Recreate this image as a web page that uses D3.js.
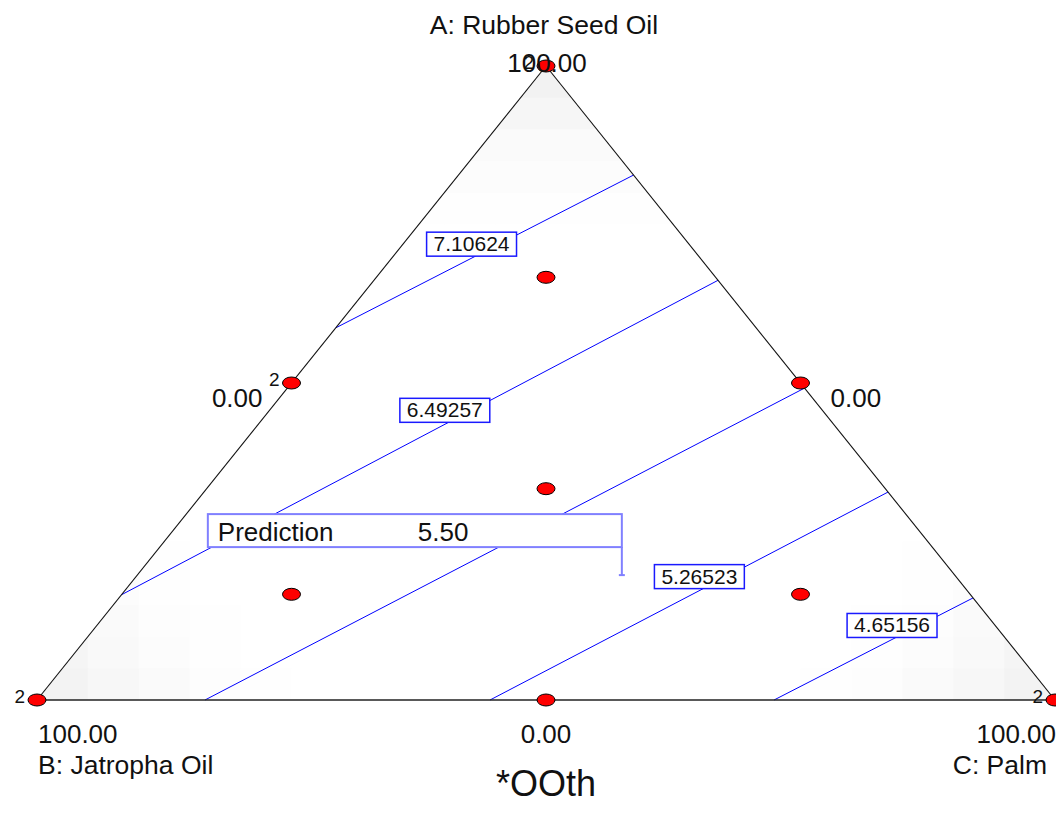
<!DOCTYPE html>
<html><head><meta charset="utf-8">
<script src="https://cdn.jsdelivr.net/npm/d3@7"></script>
<style>
html,body{margin:0;padding:0;background:#fff;}
svg{display:block;font-family:"Liberation Sans",Arial,sans-serif;}
</style></head><body>
<svg id="chart" width="1056" height="825"></svg>
<script>
// Mixture components (vertex order: A top, B bottom-left, C bottom-right)
const componentNames = ["A: Rubber Seed Oil", "B: Jatropha Oil", "C: Palm"];
const vertexTicks = ["100.00", "100.00", "100.00"];
const edgeTicks = ["0.00", "0.00", "0.00"];
const responseName = "*OOth";

// Design points in percent of A, B, C and how many runs sit on each
const designA = [100, 0, 0, 50, 50, 0, 66.67, 16.67, 16.67, 33.33];
const designB = [0, 100, 0, 50, 0, 50, 16.67, 66.67, 16.67, 33.33];
const designC = [0, 0, 100, 0, 50, 50, 16.67, 16.67, 66.67, 33.33];
const designReps = [2, 2, 2, 2, 1, 1, 1, 1, 1, 1];

// Contour levels and the mixtures where each line meets the triangle edges
const contourLevels = [7.10624, 6.49257, 5.8789, 5.26523, 4.65156];
const contourLabelled = [true, true, false, true, true];
const contourStartA = [58.7, 16.6, 0, 0, 0];
const contourStartB = [41.3, 83.4, 83.5, 55.5, 27.6];
const contourStartC = [0, 0, 16.5, 44.5, 72.4];
const contourEndA = [82.8, 66.2, 49.2, 32.8, 16.1];
const contourEndB = [0, 0, 0, 0, 0];
const contourEndC = [17.2, 33.8, 50.8, 67.2, 83.9];

// Prediction flag
const predictionLabel = "Prediction";
const predictionValue = 5.50;
const predictionMix = [19.7, 32.7, 47.6];

// ---- layout ----
const labelAlong = [0.456, 0.542, null, 0.526, 0.593];
const svg = d3.select("#chart");
const yS = d3.scaleLinear().domain([0, 100]).range([700, 66]);
const xS = d3.scaleLinear().domain([-100, 100]).range([37, 1055]);
const proj = (a, b, c) => [xS(c - b), yS(a)];

const vA = proj(100, 0, 0), vB = proj(0, 100, 0), vC = proj(0, 0, 100);
const triPath = d3.line()([vA, vB, vC]) + "Z";

// corner shading of the design space, blocky grid clipped to the triangle
svg.append("clipPath").attr("id", "tri").append("path").attr("d", triPath);
const shade = svg.append("g").attr("clip-path", "url(#tri)");
const nCells = 20;
const cw = (vC[0] - vB[0]) / nCells, ch = (vB[1] - vA[1]) / nCells;
for (let i = 0; i < nCells; i++) {
  for (let j = 0; j < nCells; j++) {
    const x0 = vB[0] + i * cw, y0 = vA[1] + j * ch;
    const a = yS.invert(y0 + ch / 2), d = xS.invert(x0 + cw / 2);
    const b = (100 - a - d) / 2, c = (100 - a + d) / 2;
    const v = Math.max(a, b, c) / 100;
    const t = Math.max(0, (v - 0.7) / 0.3);
    if (t <= 0) continue;
    const g = Math.round(255 - 16 * t * t);
    shade.append("rect").attr("x", x0).attr("y", y0)
      .attr("width", cw + 0.5).attr("height", ch + 0.5)
      .attr("fill", d3.rgb(g, g, g));
  }
}

// contour lines
const lineGen = d3.line();
const contours = contourLevels.map((lv, i) => ({
  level: lv,
  p0: proj(contourStartA[i], contourStartB[i], contourStartC[i]),
  p1: proj(contourEndA[i], contourEndB[i], contourEndC[i]),
  labelled: contourLabelled[i],
  at: labelAlong[i]
}));
svg.append("g").selectAll("path").data(contours).join("path")
  .attr("d", d => lineGen([d.p0, d.p1]))
  .attr("stroke", "#0000ff").attr("stroke-width", 1).attr("fill", "none");

// triangle outline
svg.append("path").attr("d", d3.line()([vA, vB])).attr("stroke", "#111").attr("stroke-width", 1.1).attr("fill", "none");
svg.append("path").attr("d", d3.line()([vA, vC])).attr("stroke", "#111").attr("stroke-width", 1.1).attr("fill", "none");
svg.append("path").attr("d", d3.line()([vB, vC])).attr("stroke", "#222").attr("stroke-width", 1.6).attr("fill", "none");

// contour value boxes
const lblG = svg.append("g");
contours.filter(d => d.labelled).forEach(d => {
  const px = d.p0[0] + (d.p1[0] - d.p0[0]) * d.at;
  const py = d.p0[1] + (d.p1[1] - d.p0[1]) * d.at;
  const g = lblG.append("g");
  const rect = g.append("rect");
  const txt = g.append("text").attr("x", px).attr("y", py - 7)
    .attr("text-anchor", "middle").attr("font-size", 21).attr("fill", "#111")
    .text(d.level.toFixed(5));
  const w = txt.node().getComputedTextLength() + 14;
  rect.attr("x", px - w / 2).attr("y", py - 26).attr("width", w).attr("height", 24)
    .attr("fill", "#fff").attr("stroke", "#1a1aff").attr("stroke-width", 1.5);
});

// prediction flag
const pp = proj(...predictionMix);
const flag = svg.append("g");
flag.append("rect").attr("x", pp[0] - 414).attr("y", pp[1] - 61)
  .attr("width", 414).attr("height", 33)
  .attr("fill", "#fff").attr("stroke", "#8080ff").attr("stroke-width", 2);
flag.append("line").attr("x1", pp[0]).attr("x2", pp[0]).attr("y1", pp[1] - 28).attr("y2", pp[1])
  .attr("stroke", "#8080ff").attr("stroke-width", 2);
flag.append("line").attr("x1", pp[0] - 3).attr("x2", pp[0] + 3).attr("y1", pp[1]).attr("y2", pp[1])
  .attr("stroke", "#8080ff").attr("stroke-width", 2);
flag.append("text").attr("x", pp[0] - 404).attr("y", pp[1] - 34)
  .attr("font-size", 26).attr("fill", "#111").text(predictionLabel);
flag.append("text").attr("x", pp[0] - 204).attr("y", pp[1] - 34)
  .attr("font-size", 26).attr("fill", "#111").text(predictionValue.toFixed(2));

// design points
const pts = designA.map((a, i) => ({ p: proj(a, designB[i], designC[i]), n: designReps[i] }));
svg.append("g").selectAll("ellipse").data(pts).join("ellipse")
  .attr("cx", d => d.p[0]).attr("cy", d => d.p[1]).attr("rx", 9).attr("ry", 6)
  .attr("fill", "#ff0000").attr("stroke", "#000").attr("stroke-width", 1);

// axis text
const T = (x, y, s, size, anchor) => svg.append("text").attr("x", x).attr("y", y)
  .attr("font-size", size).attr("text-anchor", anchor || "start").attr("fill", "#111").text(s);

T(vA[0] - 2, 34, componentNames[0], 26.5, "middle");
T(vA[0] + 1, vA[1] + 6, vertexTicks[0], 26, "middle");
T(vB[0] + 1, 743, vertexTicks[1], 26, "start");
T(vB[0] + 1, 774, componentNames[1], 26.5, "start");
T(1056, 743, vertexTicks[2], 26, "end");
T(1047, 774, componentNames[2], 26.5, "end");

const mAB = proj(50, 50, 0), mAC = proj(50, 0, 50), mBC = proj(0, 50, 50);
T(mAB[0] - 29, mAB[1] + 24, edgeTicks[2], 26, "end");
T(mAC[0] + 30, mAC[1] + 24, edgeTicks[1], 26, "start");
T(mBC[0], 743, edgeTicks[0], 26, "middle");

// replicate counts
pts.filter(d => d.n > 1).forEach(d => T(d.p[0] - 12, d.p[1] + 3, String(d.n), 19, "end"));

T(vA[0], 796, responseName, 36, "middle");
</script>
</body></html>
